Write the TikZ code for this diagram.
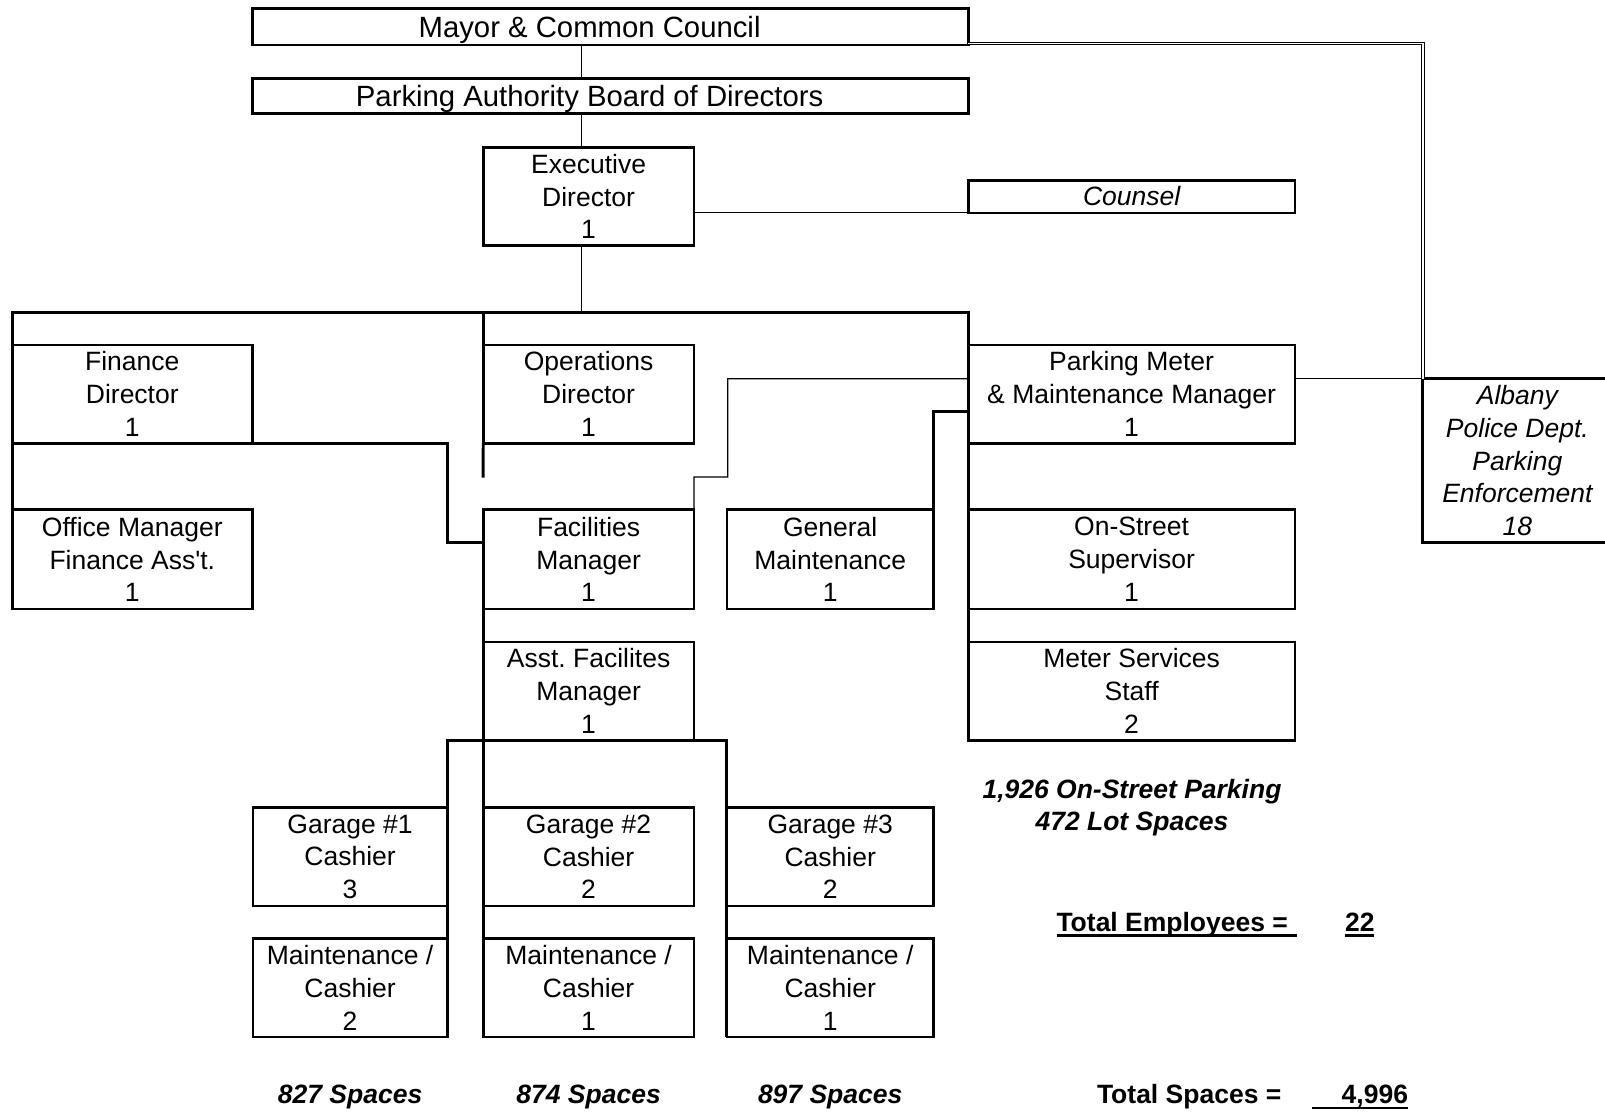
\documentclass[tikz,border=0pt]{standalone}
\usepackage{fontspec}
\setmainfont{Liberation Sans}
\newfontfamily\nomap{Liberation Sans}[Ligatures=TeXOff]
\newcommand\bxf{\fontsize{26.5}{32.75}\selectfont\frenchspacing}
\newcommand\tpf{\fontsize{29.3}{35}\selectfont\frenchspacing}
\tikzset{
  box/.style 2 args={draw, line width=2.7pt, inner sep=0pt, outer sep=0pt, align=center, font=\bxf, minimum width=#1pt, minimum height=#2pt},
  conn/.style={line width=2.8pt},
  spn/.style={line width=1.8pt},
  thinln/.style={line width=1.2pt},
  dbl/.style={double, double distance=1.6pt, line width=0.9pt},
  lbl/.style={inner sep=0pt, outer sep=0pt, font=\bxf},
  boldit/.style={lbl, font=\bxf\bfseries\itshape},
  boldlbl/.style={lbl, font=\bxf\bfseries},
  uln/.style={line width=2.6pt},
}
\begin{document}
\begin{tikzpicture}[x=1pt,y=-1pt]
\useasboundingbox (0,0) rectangle (1605,1111);
\fill[white] (0,0) rectangle (1605,1111);

% top
\node[box={715.5}{36.8}] (mayor) at (610.5,26.6) {};
\node[lbl, font=\tpf, anchor=base] (mayortxt) at (589.6,37) {Mayor \& Common Council};
\node[box={715.5}{34.8}] (pabd) at (610.5,96.2) {};
\node[lbl, font=\tpf, anchor=base] (pabdtxt) at (589.6,106.6) {Parking Authority Board of Directors};
\node[box={210.9}{98.3}] (exec) at (588.6,196.5) {Executive\\Director\\1};
\node[box={326.6}{32.7}, font=\bxf\itshape] (counsel) at (1131.6,196.5) {Counsel};

% row A
\node[box={240}{98.2}] (fin) at (132.3,394.1) {Finance\\Director\\1};
\node[box={210.9}{98.2}] (ops) at (588.6,394.1) {Operations\\Director\\1};
\node[box={326.6}{98.2}] (pmm) at (1131.6,394.1) {Parking Meter\\\& Maintenance Manager\\1};
\node[lbl, font=\bxf\itshape, align=center, minimum width=189.2pt, minimum height=163.8pt] (albany) at (1517.4,460.6) {Albany\\Police Dept.\\Parking\\Enforcement\\18};
\draw[line width=2.7pt] (albany.north east) -- (albany.north west) -- (albany.south west) -- (albany.south east);

% row B
\node[box={240}{99.2}] (office) at (132.3,559.4) {Office Manager\\Finance Ass{\nomap '}t.\\1};
\node[box={210.9}{99.2}] (fac) at (588.6,559.4) {Facilities\\Manager\\1};
\node[box={206.7}{99.2}] (genm) at (830.2,559.4) {General\\Maintenance\\1};
\node[box={326.6}{99.2}] (onst) at (1131.6,559.4) {On-Street\\Supervisor\\1};

% row C
\node[box={210.9}{98.3}] (asst) at (588.6,691) {Asst. Facilites\\Manager\\1};
\node[box={326.6}{98.3}] (msvc) at (1131.6,691) {Meter Services\\Staff\\2};

% row D
\node[box={194.5}{98.3}] (g1) at (350.1,856.8) {Garage \#1\\Cashier\\3};
\node[box={210.9}{98.3}] (g2) at (588.6,856.8) {Garage \#2\\Cashier\\2};
\node[box={206.7}{98.3}] (g3) at (830.2,856.8) {Garage \#3\\Cashier\\2};

% row E
\node[box={194.5}{98.3}] (m1) at (350.1,987.8) {Maintenance /\\Cashier\\2};
\node[box={210.9}{98.3}] (m2) at (588.6,987.8) {Maintenance /\\Cashier\\1};
\node[box={206.7}{98.3}] (m3) at (830.2,987.8) {Maintenance /\\Cashier\\1};

% labels
\node[boldit, anchor=base] (onstreet) at (1132,798) {1,926 On-Street Parking};
\node[boldit, anchor=base] (lot) at (1132,830.7) {472 Lot Spaces};
\node[boldit, anchor=base] (sp1) at (350.1,1103.5) {827 Spaces};
\node[boldit, anchor=base] (sp2) at (588.6,1103.5) {874 Spaces};
\node[boldit, anchor=base] (sp3) at (830.2,1103.5) {897 Spaces};

\node[boldlbl, anchor=base west] (totemp) at (1056.5,931) {Total Employees =};
\draw[uln] ([yshift=-4.5pt]totemp.base west) -- ++(240.5,0);
\node[boldlbl, anchor=base west] (emp) at (1345,931) {22};
\draw[uln] ([yshift=-4.5pt]emp.base west) -- ([yshift=-4.5pt]emp.base east);
\node[boldlbl, anchor=base west] (totsp) at (1097,1103.5) {Total Spaces =};
\node[boldlbl, anchor=base east] (spc) at (1408,1103.5) {4,996};
\draw[uln] ([xshift=-96pt,yshift=-4.5pt]spc.base east) -- ([yshift=-4.5pt]spc.base east);

% coordinates
\coordinate (bus) at (581.4,312.2);
\coordinate (opsend) at (483.1,477.5);
\coordinate (finj) at (447.3,542.5);
\coordinate (flk1) at (727.8,378.7);
\coordinate (flk2) at (727.8,477);

% connectors
\draw[spn] (mayor.south -| bus) -- (pabd.north -| bus);
\draw[spn] (pabd.south -| bus) -- (exec.north -| bus);
\draw[spn] (exec.south -| bus) -- (bus);
\draw[conn] (fin.north west) |- (bus) -| (pmm.north west);
\draw[conn] (ops.north west |- bus) -- (ops.north west);
\draw[conn] (ops.south west) -- (opsend);
\draw[conn] (fin.south west) -- (office.north west);
\draw[conn] (fin.south east) -| (finj) -- (fac.west |- finj);
\draw[conn] (pmm.south west) -- (msvc.south west);
\draw[conn] (genm.north east) |- ([yshift=-17.4pt]pmm.west);
\draw[thinln] (pmm.west |- albany.north) -- (flk1) -- (flk2) -| (fac.north east);
\draw[thinln] (exec.east |- counsel.south) -- (counsel.south west);
\draw[thinln] (pmm.east |- albany.north) -- (albany.north west);
\draw[dbl] ([yshift=1.5pt]mayor.south east) -| (albany.north west);
\draw[conn] (fac.south west) -- (asst.north west);
\draw[conn] (m1.south east) -- (m1.south east |- asst.south) -- (m3.south west |- asst.south) -- (m3.south west);
\draw[conn] (asst.south west) -- (m2.south west);
\end{tikzpicture}
\end{document}
